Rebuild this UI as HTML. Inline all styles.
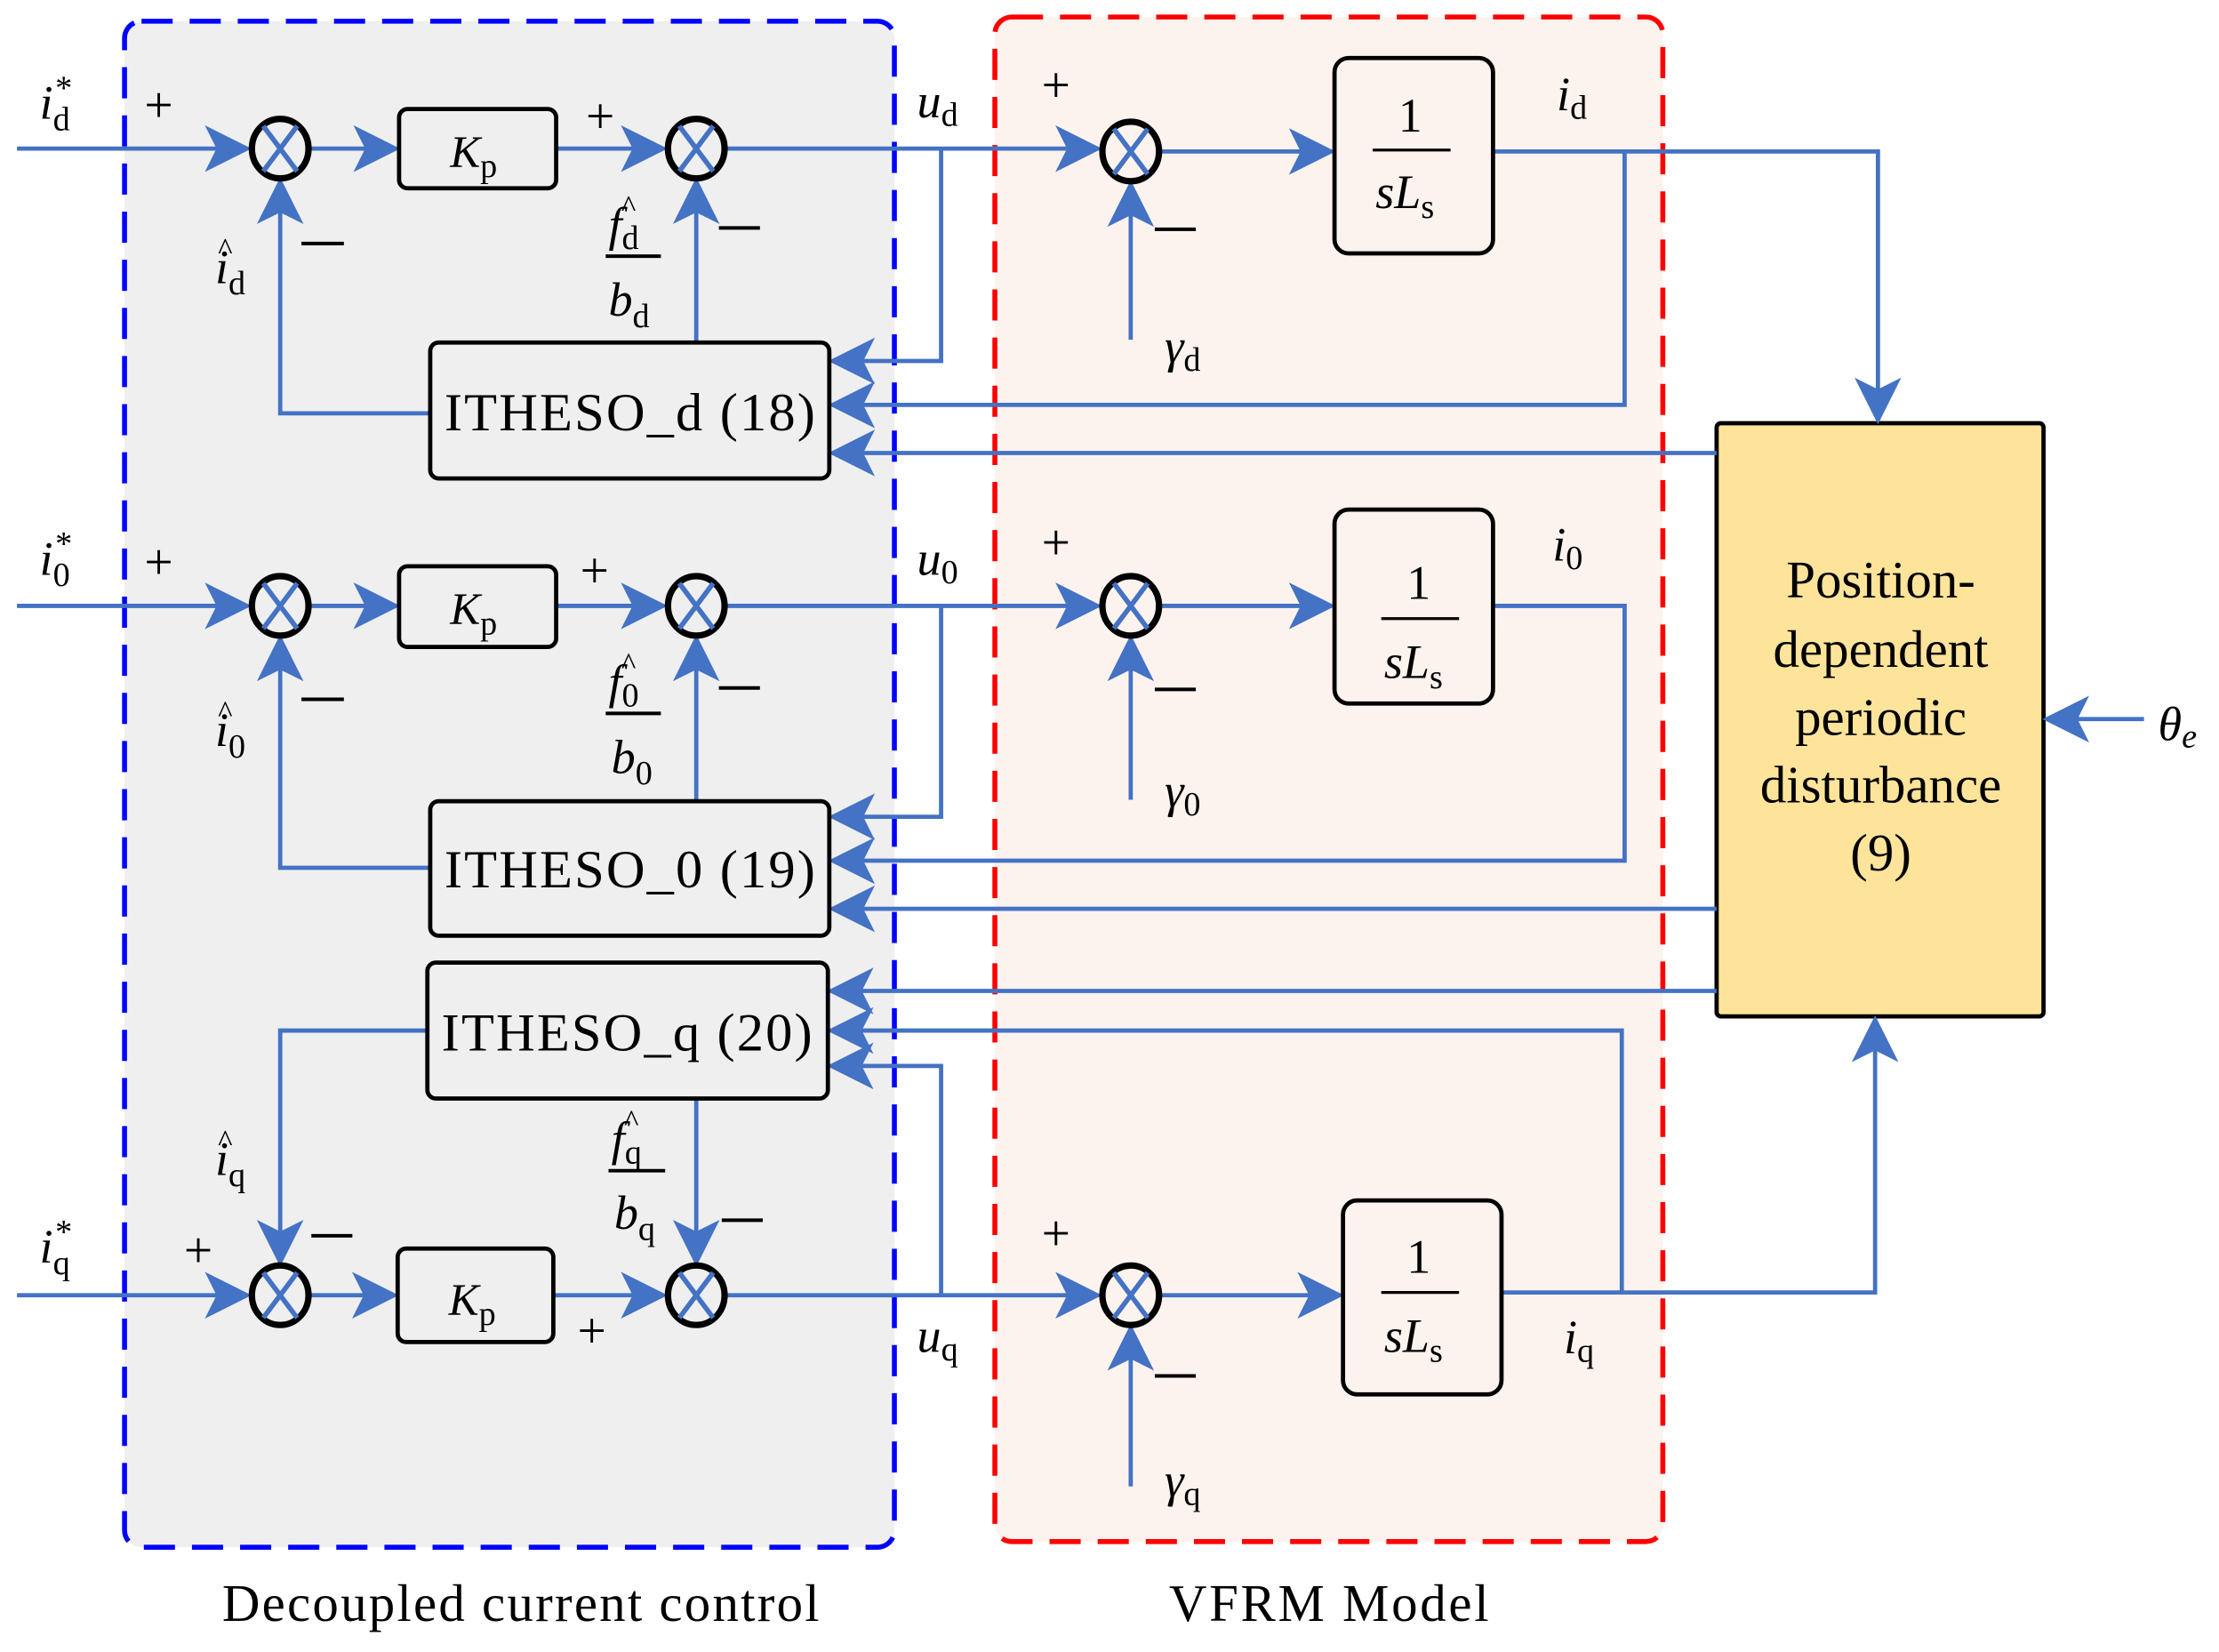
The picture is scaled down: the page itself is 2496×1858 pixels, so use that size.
<!DOCTYPE html>
<html><head><meta charset="utf-8">
<style>
html,body{margin:0;padding:0;background:#fff;}
svg{display:block;}
text{font-family:"Liberation Serif",serif;fill:#000;}
.it{font-style:italic;}
</style></head>
<body>
<svg width="2496" height="1858" viewBox="0 0 1568 1167" preserveAspectRatio="none" xmlns="http://www.w3.org/2000/svg">
<defs>
<marker id="b" viewBox="0 0 12 12" refX="11" refY="6" markerWidth="11" markerHeight="11" markerUnits="strokeWidth" orient="auto">
<path d="M0,0 L12,6 L0,12 L3,6 z" fill="#4472c4"/>
</marker>
<g id="s"><ellipse cx="0" cy="0" rx="20" ry="21" fill="none" stroke="#000" stroke-width="4.5"/><path d="M-12,-16 L12,16 M12,-16 L-12,16" stroke="#4472c4" stroke-width="3.5"/></g>
</defs>
<rect x="88" y="15" width="544" height="1078" rx="12" fill="#efefef" stroke="#0000ff" stroke-width="3.5" stroke-dasharray="22,12"/>
<rect x="703" y="12" width="472" height="1077" rx="12" fill="#fdf3ee" stroke="#ff0000" stroke-width="3.5" stroke-dasharray="22,12"/>
<rect x="1213" y="299" width="231" height="419" rx="3" fill="#fde49a" stroke="#000" stroke-width="3"/>

<g fill="none" stroke="#4472c4" stroke-width="3" marker-end="url(#b)">
<path d="M12,105 H175"/>
<path d="M220,105 H280"/>
<path d="M393,105 H469"/>
<path d="M514,105 H776"/>
<path d="M821,107 H941"/>
<path d="M1055,107 H1327 V297"/>
<path d="M1148,107 V286 H588"/>
<path d="M665,105 V255 H588"/>
<path d="M1213,320 H588"/>
<path d="M492,242 V128"/>
<path d="M304,292 H198 V128"/>
<path d="M799,240 V130"/>
<path d="M12,428 H175"/>
<path d="M220,428 H280"/>
<path d="M393,428 H469"/>
<path d="M514,428 H776"/>
<path d="M821,428 H941"/>
<path d="M665,428 V577 H588"/>
<path d="M1055,428 H1148 V608 H588"/>
<path d="M1213,642 H588"/>
<path d="M304,613 H198 V451"/>
<path d="M492,566 V451"/>
<path d="M799,565 V451"/>
<path d="M12,915 H175"/>
<path d="M220,915 H279"/>
<path d="M391,915 H469"/>
<path d="M514,915 H776"/>
<path d="M821,915 H947"/>
<path d="M665,915 V753 H587"/>
<path d="M1061,913 H1325 V720"/>
<path d="M1146,913 V728 H587"/>
<path d="M1213,700 H587"/>
<path d="M302,728 H198 V892"/>
<path d="M492,764 V892"/>
<path d="M799,1050 V938"/>
<path d="M1515,508 H1446"/>
</g>

<use href="#s" x="198" y="105"/><use href="#s" x="492" y="105"/><use href="#s" x="799" y="107"/>
<use href="#s" x="198" y="428"/><use href="#s" x="492" y="428"/><use href="#s" x="799" y="428"/>
<use href="#s" x="198" y="915"/><use href="#s" x="492" y="915"/><use href="#s" x="799" y="915"/>

<g fill="#efefef" stroke="#000" stroke-width="3">
<rect x="282" y="77" width="111" height="56" rx="6"/>
<rect x="282" y="400" width="111" height="57" rx="6"/>
<rect x="281" y="882" width="110" height="66" rx="6"/>
<rect x="304" y="242" width="282" height="96" rx="6"/>
<rect x="304" y="566" width="282" height="95" rx="6"/>
<rect x="302" y="680" width="283" height="96" rx="6"/>
</g>
<g fill="#fdf3ee" stroke="#000" stroke-width="3">
<rect x="943" y="41" width="112" height="138" rx="10"/>
<rect x="943" y="360" width="112" height="137" rx="10"/>
<rect x="949" y="848" width="112" height="137" rx="10"/>
</g>

<g font-size="32">
<text x="318" y="118" class="it">K<tspan font-style="normal" font-size="24" dy="7">p</tspan></text>
<text x="318" y="441" class="it">K<tspan font-style="normal" font-size="24" dy="7">p</tspan></text>
<text x="317" y="929" class="it">K<tspan font-style="normal" font-size="24" dy="7">p</tspan></text>
</g>
<g font-size="38">
<text x="314" y="304" textLength="262">ITHESO_d (18)</text>
<text x="314" y="627" textLength="262">ITHESO_0 (19)</text>
<text x="312" y="742" textLength="262">ITHESO_q (20)</text>
</g>
<g font-size="34">
<text x="988" y="93">1</text><line x1="970" y1="106" x2="1025" y2="106" stroke="#000" stroke-width="2"/><text x="972" y="147" class="it">sL<tspan font-style="normal" font-size="24" dy="7">s</tspan></text>
<text x="994" y="423">1</text><line x1="976" y1="437" x2="1031" y2="437" stroke="#000" stroke-width="2"/><text x="978" y="479" class="it">sL<tspan font-style="normal" font-size="24" dy="7">s</tspan></text>
<text x="994" y="899">1</text><line x1="976" y1="913" x2="1031" y2="913" stroke="#000" stroke-width="2"/><text x="978" y="955" class="it">sL<tspan font-style="normal" font-size="24" dy="7">s</tspan></text>
</g>
<g font-size="36">
<text x="102" y="86">+</text><text x="414" y="94">+</text><text x="736" y="72">+</text>
<text x="102" y="409">+</text><text x="410" y="415">+</text><text x="736" y="395">+</text>
<text x="130" y="895">+</text><text x="408" y="952">+</text><text x="736" y="883">+</text>
</g>
<g stroke="#000" stroke-width="2.5">
<line x1="213" y1="172" x2="243" y2="172"/><line x1="508" y1="161" x2="537" y2="161"/><line x1="816" y1="162" x2="845" y2="162"/>
<line x1="213" y1="494" x2="243" y2="494"/><line x1="508" y1="486" x2="537" y2="486"/><line x1="816" y1="487" x2="845" y2="487"/>
<line x1="220" y1="873" x2="249" y2="873"/><line x1="510" y1="862" x2="539" y2="862"/><line x1="816" y1="972" x2="845" y2="972"/>
<line x1="428" y1="181" x2="467" y2="181"/><line x1="428" y1="504" x2="467" y2="504"/><line x1="430" y1="827" x2="470" y2="827"/>
</g>
<g font-size="34">
<text x="28" y="84" class="it">i<tspan font-style="normal" font-size="24" dy="8">d</tspan></text><text x="39" y="70" font-size="24">*</text>
<text x="28" y="406" class="it">i<tspan font-style="normal" font-size="24" dy="8">0</tspan></text><text x="39" y="392" font-size="24">*</text>
<text x="28" y="892" class="it">i<tspan font-style="normal" font-size="24" dy="8">q</tspan></text><text x="39" y="878" font-size="24">*</text>
<text x="152" y="200" class="it">i<tspan font-style="normal" font-size="24" dy="8">d</tspan></text><text x="154" y="183" font-size="22">^</text>
<text x="152" y="527" class="it">i<tspan font-style="normal" font-size="24" dy="8">0</tspan></text><text x="154" y="510" font-size="22">^</text>
<text x="152" y="830" class="it">i<tspan font-style="normal" font-size="24" dy="8">q</tspan></text><text x="154" y="813" font-size="22">^</text>
<text x="430" y="170" class="it">f<tspan font-style="normal" font-size="24" dy="6">d</tspan></text><text x="439" y="153" font-size="22">^</text>
<text x="430" y="223" class="it">b<tspan font-style="normal" font-size="24" dy="8">d</tspan></text>
<text x="430" y="493" class="it">f<tspan font-style="normal" font-size="24" dy="6">0</tspan></text><text x="439" y="476" font-size="22">^</text>
<text x="432" y="546" class="it">b<tspan font-style="normal" font-size="24" dy="8">0</tspan></text>
<text x="432" y="816" class="it">f<tspan font-style="normal" font-size="24" dy="6">q</tspan></text><text x="441" y="799" font-size="22">^</text>
<text x="434" y="868" class="it">b<tspan font-style="normal" font-size="24" dy="8">q</tspan></text>
<text x="648" y="83" class="it">u<tspan font-style="normal" font-size="24" dy="6">d</tspan></text>
<text x="648" y="406" class="it">u<tspan font-style="normal" font-size="24" dy="6">0</tspan></text>
<text x="648" y="955" class="it">u<tspan font-style="normal" font-size="24" dy="6">q</tspan></text>
<text x="1100" y="78" class="it">i<tspan font-style="normal" font-size="24" dy="6">d</tspan></text>
<text x="1097" y="396" class="it">i<tspan font-style="normal" font-size="24" dy="6">0</tspan></text>
<text x="1105" y="956" class="it">i<tspan font-style="normal" font-size="24" dy="6">q</tspan></text>
<text x="823" y="256" class="it">γ<tspan font-style="normal" font-size="24" dy="6">d</tspan></text>
<text x="823" y="570" class="it">γ<tspan font-style="normal" font-size="24" dy="6">0</tspan></text>
<text x="823" y="1057" class="it">γ<tspan font-style="normal" font-size="24" dy="6">q</tspan></text>
<text x="1525" y="523" class="it">θ<tspan font-size="24" dy="5">e</tspan></text>
</g>
<g font-size="37" text-anchor="middle">
<text x="1329" y="422">Position-</text>
<text x="1329" y="471">dependent</text>
<text x="1329" y="519">periodic</text>
<text x="1329" y="567">disturbance</text>
<text x="1329" y="615">(9)</text>
<text x="368" y="1145" textLength="422">Decoupled current control</text>
<text x="939" y="1145" textLength="226">VFRM Model</text>
</g>
</svg>
</body></html>
